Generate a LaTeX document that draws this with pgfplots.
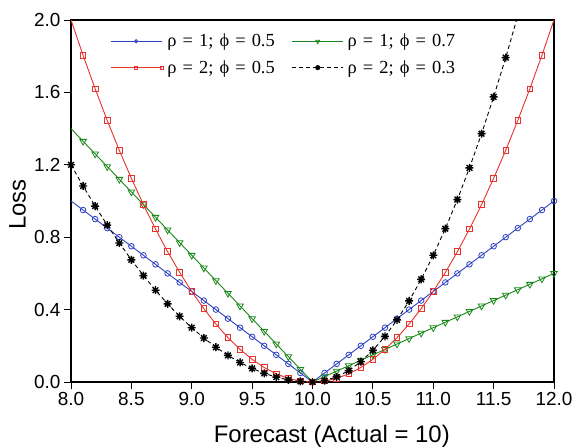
\documentclass[border=0pt]{standalone}
\usepackage{pgfplots}
\pgfplotsset{compat=1.18}
\usepackage{fontspec}
\setmainfont{Liberation Sans}
\newfontfamily\legfont{Liberation Serif}
\definecolor{cblue}{RGB}{45,65,195}
\definecolor{cred}{RGB}{232,50,45}
\definecolor{cgreen}{RGB}{25,135,25}
\pgfdeclareplotmark{star8}{%
  \pgfpathmoveto{\pgfqpoint{-\pgfplotmarksize}{0pt}}\pgfpathlineto{\pgfqpoint{\pgfplotmarksize}{0pt}}%
  \pgfpathmoveto{\pgfqpoint{0pt}{-\pgfplotmarksize}}\pgfpathlineto{\pgfqpoint{0pt}{\pgfplotmarksize}}%
  \pgfpathmoveto{\pgfqpoint{-0.707\pgfplotmarksize}{-0.707\pgfplotmarksize}}\pgfpathlineto{\pgfqpoint{0.707\pgfplotmarksize}{0.707\pgfplotmarksize}}%
  \pgfpathmoveto{\pgfqpoint{-0.707\pgfplotmarksize}{0.707\pgfplotmarksize}}\pgfpathlineto{\pgfqpoint{0.707\pgfplotmarksize}{-0.707\pgfplotmarksize}}%
  \pgfusepathqstroke}
\newcommand{\legtxt}[2]{\legfont\fontsize{18.5}{20}\selectfont ρ\hspace{0.33em}=\hspace{0.33em}#1;\hspace{0.33em}ϕ\hspace{0.33em}=\hspace{0.33em}#2}
\begin{document}
\begin{tikzpicture}
\begin{axis}[
  scale only axis, width=483bp, height=362bp,
  xmin=8, xmax=12, ymin=0, ymax=2,
  xtick={8,8.5,...,12}, ytick={0,0.4,...,2.0},
  tick pos=left, tick align=outside, major tick length=7bp,
  axis line style={line width=1.4bp, black},
  tick style={line width=0.9bp, black},
  /pgf/number format/assume math mode=true,
  xticklabel style={/pgf/number format/.cd, fixed, fixed zerofill, precision=1},
  yticklabel style={/pgf/number format/.cd, fixed, fixed zerofill, precision=1},
  ticklabel style={font=\fontsize{19}{22}\selectfont},
  xlabel={Forecast (Actual = 10)}, ylabel={Loss},
  label style={font=\fontsize{24}{28}\selectfont},
  xlabel style={at={(axis description cs:0.54,0)}, anchor=base, yshift=-60bp},
  ylabel style={at={(axis description cs:0,0.49)}, anchor=center, yshift=53.5bp},
  legend columns=2,
  legend style={draw=none, fill=none, at={(axis description cs:0,1)}, anchor=north west,
    xshift=39bp, yshift=-12bp, inner sep=0pt,
    nodes={inner xsep=4bp, inner ysep=2bp}, row sep=8bp,
    /tikz/every even column/.append style={column sep=13bp}},
  legend cell align=left,
  legend image code/.code={\draw[#1, mark repeat=2, mark phase=2, every mark/.append style={scale=0.6}] plot coordinates {(0bp,0bp) (25.5bp,0bp) (51bp,0bp)};},
  every axis plot/.append style={line width=0.9bp},
]
\addplot[cblue, mark=o, mark size=2.8bp, mark phase=2, mark options={solid, line width=0.8bp}] coordinates {
(8.0,1.00)(8.1,0.95)(8.2,0.90)(8.3,0.85)(8.4,0.80)(8.5,0.75)(8.6,0.70)(8.7,0.65)(8.8,0.60)(8.9,0.55)
(9.0,0.50)(9.1,0.45)(9.2,0.40)(9.3,0.35)(9.4,0.30)(9.5,0.25)(9.6,0.20)(9.7,0.15)(9.8,0.10)(9.9,0.05)
(10.0,0.00)(10.1,0.05)(10.2,0.10)(10.3,0.15)(10.4,0.20)(10.5,0.25)(10.6,0.30)(10.7,0.35)(10.8,0.40)(10.9,0.45)
(11.0,0.50)(11.1,0.55)(11.2,0.60)(11.3,0.65)(11.4,0.70)(11.5,0.75)(11.6,0.80)(11.7,0.85)(11.8,0.90)(11.9,0.95)(12.0,1.00)};
\addlegendentry{\legtxt{1}{0.5}}
\addplot[cgreen, mark=triangle, mark size=3.8bp, mark phase=2, mark options={solid, rotate=180, line width=0.8bp}] coordinates {
(8.0,1.40)(8.1,1.33)(8.2,1.26)(8.3,1.19)(8.4,1.12)(8.5,1.05)(8.6,0.98)(8.7,0.91)(8.8,0.84)(8.9,0.77)
(9.0,0.70)(9.1,0.63)(9.2,0.56)(9.3,0.49)(9.4,0.42)(9.5,0.35)(9.6,0.28)(9.7,0.21)(9.8,0.14)(9.9,0.07)
(10.0,0.00)(10.1,0.03)(10.2,0.06)(10.3,0.09)(10.4,0.12)(10.5,0.15)(10.6,0.18)(10.7,0.21)(10.8,0.24)(10.9,0.27)
(11.0,0.30)(11.1,0.33)(11.2,0.36)(11.3,0.39)(11.4,0.42)(11.5,0.45)(11.6,0.48)(11.7,0.51)(11.8,0.54)(11.9,0.57)(12.0,0.60)};
\addlegendentry{\legtxt{1}{0.7}}
\addplot[cred, mark=square, mark size=2.8bp, mark indices={2,...,40}, mark options={solid, line width=0.8bp}] coordinates {
(8.0,2.000)(8.1,1.805)(8.2,1.620)(8.3,1.445)(8.4,1.280)(8.5,1.125)(8.6,0.980)(8.7,0.845)(8.8,0.720)(8.9,0.605)
(9.0,0.500)(9.1,0.405)(9.2,0.320)(9.3,0.245)(9.4,0.180)(9.5,0.125)(9.6,0.080)(9.7,0.045)(9.8,0.020)(9.9,0.005)
(10.0,0.000)(10.1,0.005)(10.2,0.020)(10.3,0.045)(10.4,0.080)(10.5,0.125)(10.6,0.180)(10.7,0.245)(10.8,0.320)(10.9,0.405)
(11.0,0.500)(11.1,0.605)(11.2,0.720)(11.3,0.845)(11.4,0.980)(11.5,1.125)(11.6,1.280)(11.7,1.445)(11.8,1.620)(11.9,1.805)(12.0,2.000)};
\addlegendentry{\legtxt{2}{0.5}}
\addplot[black, dashed, dash pattern=on 4bp off 3bp, mark=star8, mark size=4bp, mark options={solid, line width=1.4bp}] coordinates {
(8.0,1.200)(8.1,1.083)(8.2,0.972)(8.3,0.867)(8.4,0.768)(8.5,0.675)(8.6,0.588)(8.7,0.507)(8.8,0.432)(8.9,0.363)
(9.0,0.300)(9.1,0.243)(9.2,0.192)(9.3,0.147)(9.4,0.108)(9.5,0.075)(9.6,0.048)(9.7,0.027)(9.8,0.012)(9.9,0.003)
(10.0,0.000)(10.1,0.007)(10.2,0.028)(10.3,0.063)(10.4,0.112)(10.5,0.175)(10.6,0.252)(10.7,0.343)(10.8,0.448)(10.9,0.567)
(11.0,0.700)(11.1,0.847)(11.2,1.008)(11.3,1.183)(11.4,1.372)(11.5,1.575)(11.6,1.792)(11.7,2.023)};
\addlegendentry{\legtxt{2}{0.3}}
\end{axis}
\pgfresetboundingbox
\path ([xshift=-71bp,yshift=-65bp]current axis.south west) rectangle ([xshift=20bp,yshift=20bp]current axis.north east);
\end{tikzpicture}
\end{document}
